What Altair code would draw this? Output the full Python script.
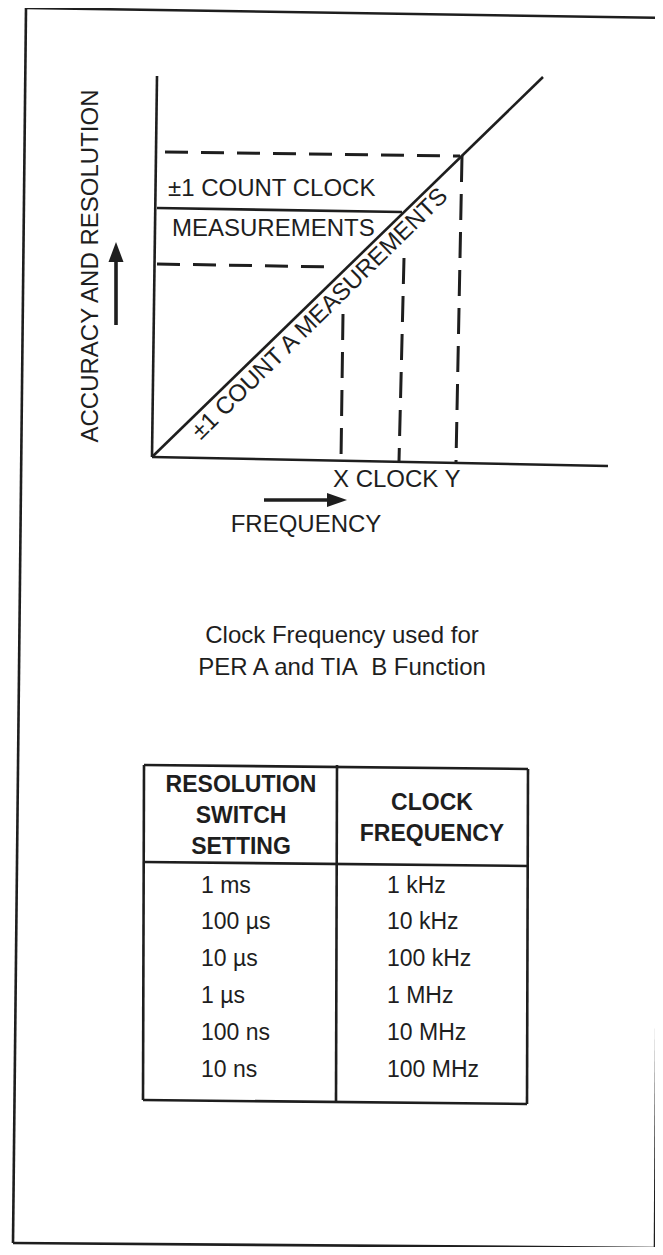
import altair as alt
import pandas as pd

# ---------------- diagram content (page units: x to the right, y downward) -------------
# solid strokes of the graph: x1, y1, x2, y2
solid_x1 = [157, 152, 152, 157]
solid_y1 = [76, 457, 457, 208]
solid_x2 = [152, 608, 543, 402]
solid_y2 = [457, 466, 77, 212]

# arrow shafts: x1, y1, x2, y2
arrow_x1 = [116, 264]
arrow_y1 = [325, 500]
arrow_x2 = [116, 330]
arrow_y2 = [258, 500]

# dashed horizontal levels: x1, y1, x2, y2
dash_h_x1 = [165, 157]
dash_h_y1 = [152, 264]
dash_h_x2 = [460, 335]
dash_h_y2 = [156, 267]

# dashed vertical drops to X, CLOCK, Y
dash_v_x1 = [343, 404, 462]
dash_v_y1 = [314, 258, 156]
dash_v_x2 = [341, 399, 456]
dash_v_y2 = [460, 461, 462]

# outer frame of the page
frame_x1 = [26, 26, 13, 660]
frame_y1 = [8, 8, 1243, 385]
frame_x2 = [672, 13, 660, 655]
frame_y2 = [18, 1243, 1248, 1248]

# arrow heads (centre points)
up_head_x, up_head_y = [116], [252]
right_head_x, right_head_y = [337], [500]

# graph labels
left_labels = ["±1 COUNT CLOCK", "MEASUREMENTS", "X CLOCK Y"]
left_x = [168, 172, 333]
left_y = [189, 229, 480]

center_labels = ["FREQUENCY", "ACCURACY AND RESOLUTION", "±1 COUNT A MEASUREMENTS",
                 "Clock Frequency used for", "PER A and TIA\u00a0 B Function"]
center_x = [306, 91, 320, 342, 342]
center_y = [525, 266, 314, 636, 668]
center_angle = [0, 270, 315.6, 0, 0]

# table
header_left = ["RESOLUTION", "SWITCH", "SETTING"]
header_left_y = [785, 816, 847]
header_right = ["CLOCK", "FREQUENCY"]
header_right_y = [803, 834]
resolution_setting = ["1 ms", "100 µs", "10 µs", "1 µs", "100 ns", "10 ns"]
clock_frequency = ["1 kHz", "10 kHz", "100 kHz", "1 MHz", "10 MHz", "100 MHz"]
row_y = [886, 922, 959, 996, 1033, 1070]
col_text_x = [201, 387]
col_center_x = [241, 432]

table_x1 = [144, 144, 143, 144, 337, 528]
table_y1 = [765, 862, 1100, 765, 765, 769]
table_x2 = [528, 528, 527, 143, 336, 527]
table_y2 = [769, 866, 1104, 1100, 1102, 1104]

# ---------------- build tables --------------------------------------------------------
def seg_df(x1, y1, x2, y2):
    return pd.DataFrame({"x": x1, "y": y1, "x2": x2, "y2": y2})

solid_df = seg_df(solid_x1, solid_y1, solid_x2, solid_y2)
arrow_df = seg_df(arrow_x1, arrow_y1, arrow_x2, arrow_y2)
dash_h_df = seg_df(dash_h_x1, dash_h_y1, dash_h_x2, dash_h_y2)
dash_v_df = seg_df(dash_v_x1, dash_v_y1, dash_v_x2, dash_v_y2)
frame_df = seg_df(frame_x1, frame_y1, frame_x2, frame_y2)
table_df = seg_df(table_x1, table_y1, table_x2, table_y2)

left_df = pd.DataFrame({"t": left_labels, "x": left_x, "y": left_y})
rows_df = pd.DataFrame({
    "t": resolution_setting + clock_frequency,
    "x": [col_text_x[0]] * 6 + [col_text_x[1]] * 6,
    "y": row_y + row_y,
})
center_df = pd.DataFrame({"t": center_labels, "x": center_x, "y": center_y, "a": center_angle})
header_df = pd.DataFrame({
    "t": header_left + header_right,
    "x": [col_center_x[0]] * 3 + [col_center_x[1]] * 2,
    "y": header_left_y + header_right_y,
})

W, H = 647, 1239
xs = alt.Scale(domain=[8, 8 + W], nice=False, zero=False)
ys = alt.Scale(domain=[8, 8 + H], nice=False, zero=False, reverse=True)
X = lambda f="x": alt.X(f"{f}:Q", scale=xs, axis=None)
Y = lambda f="y": alt.Y(f"{f}:Q", scale=ys, axis=None)

INK = "#1e1e1e"
FONT = "Liberation Sans"

def rules(df, width=2.6, dash=None):
    kw = dict(color=INK, strokeWidth=width, strokeCap="butt")
    if dash:
        kw["strokeDash"] = dash
    return alt.Chart(df).mark_rule(**kw).encode(
        x=X(), y=Y(), x2="x2:Q", y2="y2:Q")

solid = rules(solid_df, 2.6)
arrows = rules(arrow_df, 3.6)
dash_h = rules(dash_h_df, 3, [23, 13])
dash_v = rules(dash_v_df, 3, [26, 12])
frame = rules(frame_df, 2.6)
table = rules(table_df, 2.6)

up_head = alt.Chart(pd.DataFrame({"x": up_head_x, "y": up_head_y})).mark_point(
    shape="M0,-1L0.75,1L-0.75,1Z", size=400, filled=True, color=INK, opacity=1
).encode(x=X(), y=Y())
right_head = alt.Chart(pd.DataFrame({"x": right_head_x, "y": right_head_y})).mark_point(
    shape="M1,0L-1,-0.7L-1,0.7Z", size=400, filled=True, color=INK, opacity=1
).encode(x=X(), y=Y())

left_text = alt.Chart(left_df).mark_text(
    align="left", baseline="middle", font=FONT, fontSize=24, color=INK
).encode(x=X(), y=Y(), text="t:N")
rows_text = alt.Chart(rows_df).mark_text(
    align="left", baseline="middle", font=FONT, fontSize=23, color=INK
).encode(x=X(), y=Y(), text="t:N")
center_text = alt.Chart(center_df).mark_text(
    align="center", baseline="middle", font=FONT, fontSize=24, color=INK
).encode(x=X(), y=Y(), text="t:N", angle=alt.Angle("a:Q", scale=None))
header_text = alt.Chart(header_df).mark_text(
    align="center", baseline="middle", font=FONT, fontSize=23, fontWeight="bold", color=INK
).encode(x=X(), y=Y(), text="t:N")

chart = alt.layer(
    frame, solid, arrows, dash_h, dash_v, table, up_head, right_head,
    left_text, rows_text, center_text, header_text
).properties(
    width=W, height=H, padding=0, autosize=alt.AutoSizeParams(type="none"),
    background="white"
).configure_view(stroke=None)

chart.save("out.html", embed_options={"renderer": "svg", "actions": False})
